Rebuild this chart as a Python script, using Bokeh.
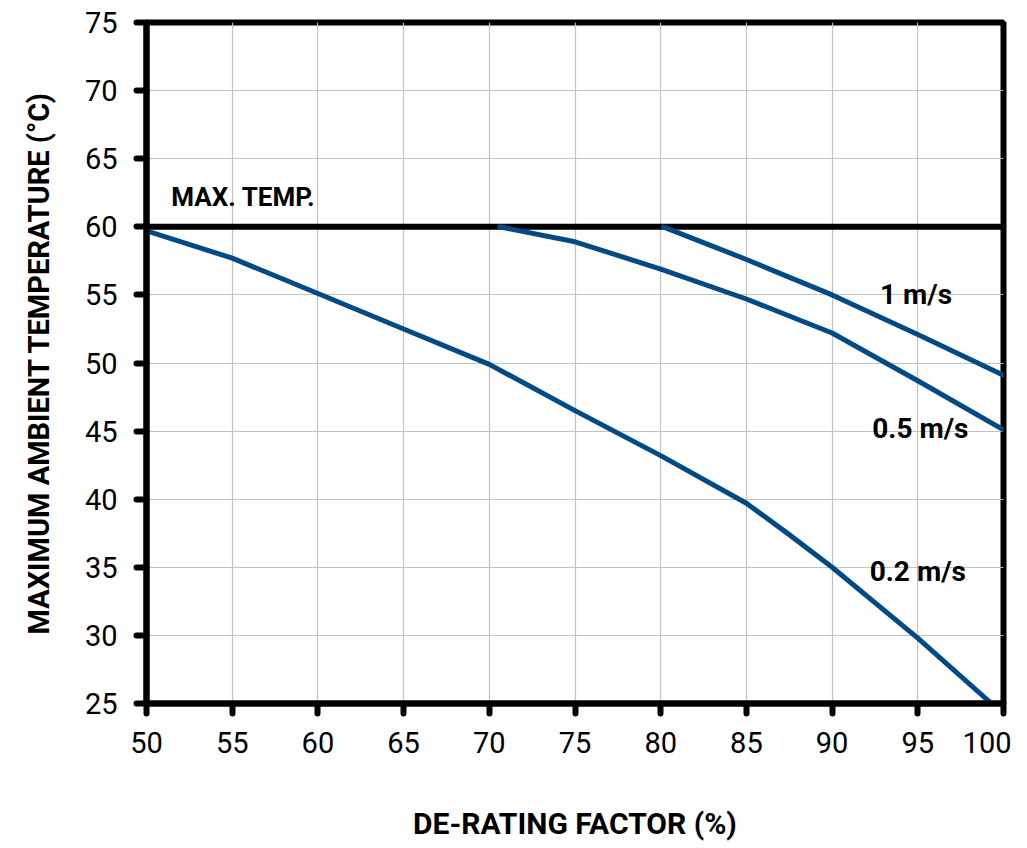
from bokeh.plotting import figure
from bokeh.models import Range1d, Label, FixedTicker
from bokeh.embed import file_html
from bokeh.resources import INLINE

# ---- data ----
x_02 = [50, 55, 60, 65, 70, 75, 80, 85, 87.5, 90, 95, 99.3]
t_02 = [59.7, 57.7, 55.1, 52.5, 49.9, 46.5, 43.2, 39.7, 37.4, 35.0, 29.8, 25.0]

x_05 = [70.6, 75, 80, 85, 90, 95, 100]
t_05 = [60.0, 58.9, 56.9, 54.7, 52.2, 48.7, 45.1]

x_1 = [80.15, 85, 90, 95, 100]
t_1 = [60.0, 57.6, 55.0, 52.1, 49.1]

max_temp = 60
x_ticks = [50, 55, 60, 65, 70, 75, 80, 85, 90, 95, 100]
y_ticks = [25, 30, 35, 40, 45, 50, 55, 60, 65, 70, 75]

FONT = "Roboto"
BLUE = "#024a86"

p = figure(width=1011, height=846, output_backend="svg", toolbar_location=None,
           x_range=Range1d(50, 100), y_range=Range1d(25, 75),
           min_border_left=146, min_border_right=8, min_border_top=22, min_border_bottom=143)

p.outline_line_color = "black"
p.outline_line_width = 6
p.background_fill_color = "white"
p.border_fill_color = "white"

for ax, ticks in ((p.xaxis, x_ticks), (p.yaxis, y_ticks)):
    ax.ticker = FixedTicker(ticks=ticks)
    ax.axis_line_color = "black"
    ax.axis_line_width = 6
    ax.major_tick_line_color = "black"
    ax.major_tick_line_width = 6
    ax.major_tick_line_cap = "round"
    ax.major_tick_out = 10
    ax.major_tick_in = 0
    ax.minor_tick_line_color = None
    ax.major_label_text_font = FONT
    ax.major_label_text_font_size = "29px"
    ax.major_label_text_color = "black"
    ax.axis_label_text_font = FONT
    ax.axis_label_text_font_style = "bold"
    ax.axis_label_text_color = "black"

p.xaxis.major_label_standoff = 18
p.yaxis.major_label_standoff = 19
p.xaxis.axis_label = "DE-RATING FACTOR (%)"
p.xaxis.axis_label_text_font_size = "30px"
p.xaxis.axis_label_standoff = 50
p.yaxis.axis_label = "MAXIMUM AMBIENT TEMPERATURE (\u00b0C)"
p.yaxis.axis_label_text_font_size = "29px"
p.yaxis.axis_label_standoff = 26

p.grid.grid_line_color = "#c2c2c2"
p.grid.grid_line_width = 1.2
p.xgrid.ticker = FixedTicker(ticks=x_ticks)
p.ygrid.ticker = FixedTicker(ticks=y_ticks)

# max temperature line
p.line([50, 100], [max_temp, max_temp], line_color="black", line_width=6)

# curves
for xs, ys in ((x_02, t_02), (x_05, t_05), (x_1, t_1)):
    p.line(xs, ys, line_color=BLUE, line_width=5, line_cap="round", line_join="round")

# labels
p.add_layout(Label(x=51.45, y=62.2, text="MAX. TEMP.", text_font=FONT, text_font_style="bold",
                   text_font_size="26px", text_color="black", text_align="left",
                   text_baseline="alphabetic"))
for lx, ly, txt in ((94.9, 55.0, "1 m/s"), (95.15, 45.2, "0.5 m/s"), (95.0, 34.7, "0.2 m/s")):
    p.add_layout(Label(x=lx, y=ly, text=txt, text_font=FONT, text_font_style="bold",
                       text_font_size="28px", text_color="black", text_align="center",
                       text_baseline="middle"))

open("out.html", "w").write(file_html(p, INLINE))
